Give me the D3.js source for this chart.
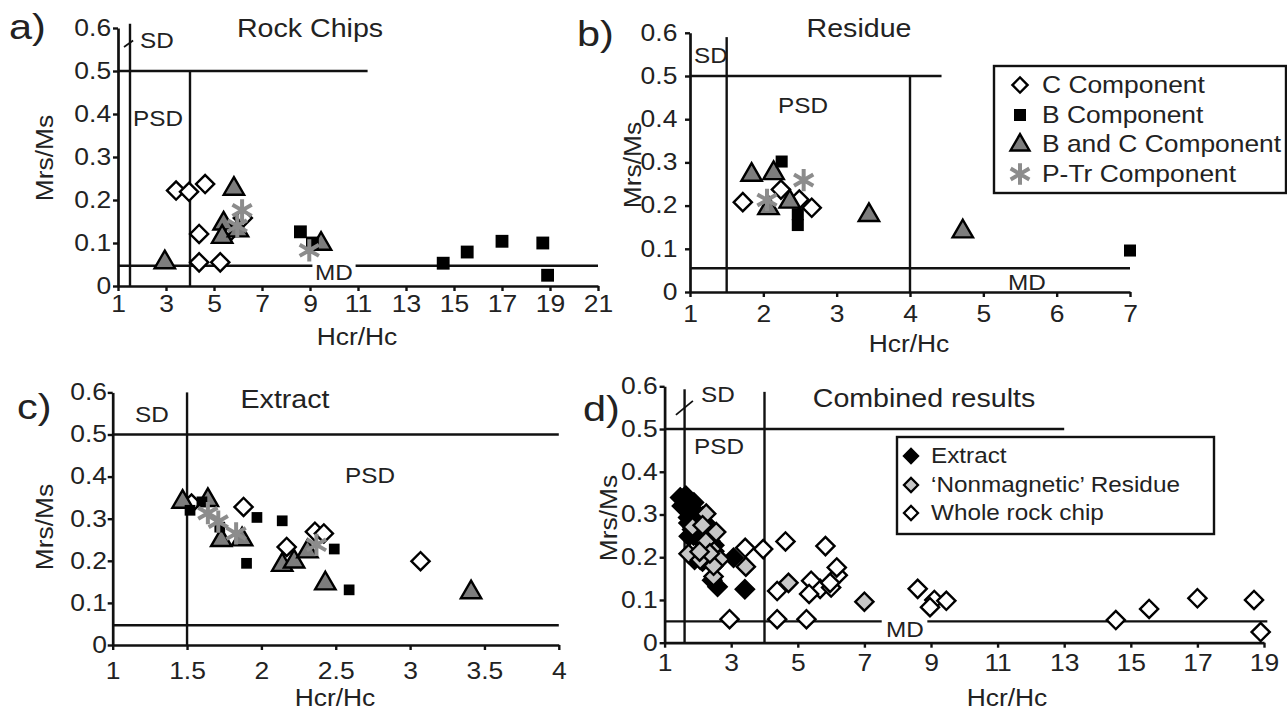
<!DOCTYPE html>
<html><head><meta charset="utf-8">
<script src="https://cdn.jsdelivr.net/npm/d3@7"></script>
<style>body{margin:0;background:#fff} svg{display:block;background:#fff}</style>
</head><body><svg id="c" width="1287" height="712"></svg>
<script>
// ---------- tick values / labels ----------
const yTicks = [0, 0.1, 0.2, 0.3, 0.4, 0.5, 0.6];
const yTickLabels = ["0", "0.1", "0.2", "0.3", "0.4", "0.5", "0.6"];
const aXTicks = [1, 3, 5, 7, 9, 11, 13, 15, 17, 19, 21];
const bXTicks = [1, 2, 3, 4, 5, 6, 7];
const cXTicks = [1, 1.5, 2, 2.5, 3, 3.5, 4];
const dXTicks = [1, 3, 5, 7, 9, 11, 13, 15, 17, 19];

// ---------- legend names ----------
const componentNames = ["C Component", "B Component", "B and C Component", "P-Tr Component"];
const combinedNames = ["Extract", "\u2018Nonmagnetic\u2019 Residue", "Whole rock chip"];

// ---------- a) Rock Chips  [Hcr/Hc, Mrs/Ms] ----------
const rockC   = [[3.42,0.222],[3.96,0.219],[4.63,0.237],[4.38,0.121],[4.38,0.055],[5.26,0.055],[5.67,0.126],[6.2,0.158]];
const rockB   = [[8.6,0.126],[9.1,0.1],[14.55,0.053],[15.55,0.079],[17.0,0.104],[18.7,0.1],[18.9,0.025]];
const rockBC  = [[2.95,0.055],[5.83,0.226],[5.4,0.145],[5.34,0.114],[6.0,0.129],[9.46,0.098]];
const rockPTr = [[6.17,0.176],[5.97,0.14],[8.97,0.083]];

// ---------- b) Residue ----------
const resC   = [[1.72,0.208],[2.24,0.237],[2.49,0.214],[2.66,0.195]];
const resB   = [[2.25,0.302],[2.47,0.155],[2.47,0.18],[7.0,0.096]];
const resBC  = [[1.84,0.271],[2.14,0.275],[2.07,0.194],[2.36,0.209],[3.44,0.178],[4.72,0.14]];
const resPTr = [[2.05,0.213],[2.55,0.259]];

// ---------- c) Extract ----------
const extC   = [[1.53,0.336],[1.88,0.328],[2.17,0.233],[2.36,0.269],[2.42,0.265],[3.07,0.199]];
const extB   = [[1.52,0.32],[1.6,0.34],[1.72,0.28],[1.97,0.303],[2.14,0.295],[1.9,0.194],[2.49,0.228],[2.59,0.131]];
const extBC  = [[1.47,0.34],[1.64,0.344],[1.73,0.249],[1.87,0.251],[2.14,0.19],[2.22,0.198],[2.31,0.222],[2.43,0.146],[3.41,0.125]];
const extPTr = [[1.64,0.313],[1.71,0.293],[1.83,0.265],[2.37,0.238]];

// ---------- d) Combined (built from the three sets above) ----------
const combExtract = [].concat(extC, extB, extBC, extPTr);
const combResidue = [].concat(resC, resB, resBC, resPTr);
const combWhole   = [].concat(rockC, rockB, rockBC, rockPTr);

// ---------- setup ----------
const FONT = "'Liberation Sans', Arial, Helvetica, sans-serif";
const INK = "#111";
const TXT = "#222";
const LW = 2.4;
const svg = d3.select("#c").attr("font-family", FONT);

function txt(x, y, s, size, anchor = "start", sx = 1.1, rot = 0) {
  svg.append("text")
    .attr("transform", `translate(${x},${y})${rot ? ` rotate(${rot})` : ""} scale(${sx},1)`)
    .attr("text-anchor", anchor).attr("font-size", size).attr("fill", TXT).text(s);
}

function makePanel(p) {
  const X = d3.scaleLinear().domain(p.xd).range(p.xr);
  const Y = d3.scaleLinear().domain([0, 0.6]).range(p.yr);
  const g = svg.append("g");
  const gx = g.append("g").attr("transform", `translate(0,${Y(0)})`)
    .call(d3.axisBottom(X).tickValues(p.xt).tickFormat(d => String(d))
      .tickSize(p.xts).tickPadding(p.xtp).tickSizeOuter(0));
  const gy = g.append("g").attr("transform", `translate(${X(p.xd[0])},0)`)
    .call(d3.axisLeft(Y).tickValues(yTicks).tickFormat((d, i) => yTickLabels[i])
      .tickSize(p.yts).tickPadding(p.ytp).tickSizeOuter(0));
  [gx, gy].forEach(a => {
    a.attr("font-family", FONT).attr("font-size", 23);
    a.selectAll("path.domain").attr("stroke", INK).attr("stroke-width", LW + 0.3);
    a.selectAll(".tick line").attr("stroke", INK).attr("stroke-width", LW);
    a.selectAll("text").attr("fill", TXT).attr("transform", "scale(1.15,1)");
  });
  return { X, Y, g };
}

function seg(P, x1, y1, x2, y2, w = LW) {
  P.g.append("line").attr("x1", P.X(x1)).attr("y1", P.Y(y1)).attr("x2", P.X(x2)).attr("y2", P.Y(y2))
    .attr("stroke", INK).attr("stroke-width", w);
}

const SYM = {
  diamond: d3.symbolSquare, square: d3.symbolSquare,
  triangle: d3.symbolTriangle, asterisk: d3.symbolAsterisk
};
function pts(P, data, type, size, fill, stroke, sw) {
  P.g.append("g").selectAll("path").data(data).join("path")
    .attr("d", d3.symbol(SYM[type], size))
    .attr("transform", d => `translate(${P.X(d[0])},${P.Y(d[1])})${type === "diamond" ? " rotate(45)" : ""}`)
    .attr("fill", fill).attr("stroke", stroke).attr("stroke-width", sw)
    .attr("stroke-linejoin", "miter");
}
function legSym(x, y, type, size, fill, stroke, sw) {
  svg.append("path").attr("d", d3.symbol(SYM[type], size)())
    .attr("transform", `translate(${x},${y})${type === "diamond" ? " rotate(45)" : ""}`)
    .attr("fill", fill).attr("stroke", stroke).attr("stroke-width", sw);
}

const GRAY_TRI = "#7d7d7d", GRAY_AST = "#8c8c8c", GRAY_RES = "#c6c6c6";

function drawComponents(P, C, B, BC, PTr, sz) {
  pts(P, C, "diamond", sz.dia, "#fff", "#000", 2.4);
  pts(P, BC, "triangle", sz.tri, GRAY_TRI, "#000", 2.4);
  pts(P, B, "square", sz.sq, "#000", "none", 0);
  pts(P, PTr, "asterisk", sz.ast, "none", GRAY_AST, 4);
}

// ================= Panel a =================
const A = makePanel({ xd: [1, 21], xr: [118, 598], yr: [286, 28], xt: aXTicks, xts: 5, xtp: 5, yts: 5, ytp: 1 });
seg(A, 1.5, 0, 1.5, 0.61);
seg(A, 4, 0, 4, 0.5);
seg(A, 1, 0.5, 11.4, 0.5);
seg(A, 1, 0.047, 9.1, 0.047);
seg(A, 10.9, 0.047, 21, 0.047);
seg(A, 1.25, 0.556, 1.63, 0.571, 1.8);
drawComponents(A, rockC, rockB, rockBC, rockPTr, { dia: 165, tri: 180, sq: 165, ast: 350 });
txt(9, 39, "a)", 36, "start", 1.15);
txt(310, 37, "Rock Chips", 26, "middle");
txt(140, 48, "SD", 22.5, "start", 1.08);
txt(133, 126, "PSD", 22.5, "start", 1.08);
txt(315, 280, "MD", 22.5, "start", 1.08);
txt(53, 158, "Mrs/Ms", 24, "middle", 1.1, -90);
txt(357, 345, "Hcr/Hc", 24, "middle");

// ================= Panel b =================
const B = makePanel({ xd: [1, 7], xr: [690, 1130], yr: [292, 32.8], xt: bXTicks, xts: 5, xtp: 9, yts: 5, ytp: 6 });
seg(B, 1.5, 0, 1.5, 0.59);
seg(B, 4, 0, 4, 0.5);
seg(B, 1, 0.5, 4.43, 0.5);
seg(B, 1, 0.055, 7, 0.055);
drawComponents(B, resC, resB, resBC, resPTr, { dia: 165, tri: 180, sq: 145, ast: 350 });
txt(577, 46, "b)", 36, "start", 1.15);
txt(859, 37, "Residue", 26, "middle");
txt(694, 63, "SD", 22.5, "start", 1.08);
txt(778, 113, "PSD", 22.5, "start", 1.08);
txt(1008, 290, "MD", 22.5, "start", 1.08);
txt(641, 165, "Mrs/Ms", 24, "middle", 1.1, -90);
txt(909, 352, "Hcr/Hc", 24, "middle");
// legend b
svg.append("rect").attr("x", 994).attr("y", 66).attr("width", 292).attr("height", 127)
  .attr("fill", "#fff").attr("stroke", INK).attr("stroke-width", LW);
const legBY = [93, 123, 152, 182];
legSym(1020, legBY[0] - 8, "diamond", 115, "#fff", "#000", 2.4);
legSym(1020, legBY[1] - 8, "square", 145, "#000", "none", 0);
legSym(1020, legBY[2] - 7, "triangle", 155, GRAY_TRI, "#000", 2.4);
legSym(1020, legBY[3] - 8, "asterisk", 330, "none", GRAY_AST, 4);
componentNames.forEach((n, i) => txt(1042, legBY[i], n, 24, "start", 1.1));

// ================= Panel c =================
const Cp = makePanel({ xd: [1, 4], xr: [112.7, 558.8], yr: [645, 392.4], xt: cXTicks, xts: 5, xtp: 13, yts: 5, ytp: 0 });
seg(Cp, 1.5, 0, 1.5, 0.6);
seg(Cp, 1, 0.5, 4, 0.5);
seg(Cp, 1, 0.047, 4, 0.047);
drawComponents(Cp, extC, extB, extBC, extPTr, { dia: 165, tri: 180, sq: 115, ast: 350 });
txt(17, 419, "c)", 36, "start", 1.15);
txt(285, 408, "Extract", 26, "middle");
txt(135, 422, "SD", 22.5, "start", 1.08);
txt(345, 483, "PSD", 22.5, "start", 1.08);
txt(53, 527, "Mrs/Ms", 24, "middle", 1.1, -90);
txt(335, 706, "Hcr/Hc", 24, "middle");

// ================= Panel d =================
const D = makePanel({ xd: [1, 19], xr: [664.6, 1264], yr: [642.7, 386.3], xt: dXTicks, xts: 5, xtp: 7, yts: 5, ytp: 1 });
seg(D, 1.6, 0, 1.6, 0.593);
seg(D, 4, 0, 4, 0.587);
seg(D, 1, 0.5, 13, 0.5);
seg(D, 1, 0.05, 7.52, 0.05);
seg(D, 8.89, 0.05, 19.1, 0.05);
seg(D, 1.34, 0.533, 1.85, 0.566, 1.8);
pts(D, combWhole, "diamond", 165, "#fff", "#000", 2.4);
pts(D, combExtract, "diamond", 165, "#000", "#000", 2.4);
pts(D, combResidue, "diamond", 165, GRAY_RES, "#000", 2.4);
txt(583, 421, "d)", 36, "start", 1.15);
txt(924, 407, "Combined results", 26, "middle");
txt(701, 402, "SD", 22.5, "start", 1.08);
txt(694, 454, "PSD", 22.5, "start", 1.08);
txt(886, 637, "MD", 22.5, "start", 1.08);
txt(617, 518, "Mrs/Ms", 24, "middle", 1.1, -90);
txt(1007, 706, "Hcr/Hc", 24, "middle");
// legend d
svg.append("rect").attr("x", 897).attr("y", 437).attr("width", 317).attr("height", 97)
  .attr("fill", "#fff").attr("stroke", INK).attr("stroke-width", LW);
const legDY = [463, 492, 520];
const legDFill = ["#000", GRAY_RES, "#fff"];
combinedNames.forEach((n, i) => {
  legSym(911, legDY[i] - 7, "diamond", 100, legDFill[i], "#000", 2.2);
  txt(931, legDY[i], n, 21.5, "start", 1.13);
});
</script></body></html>
